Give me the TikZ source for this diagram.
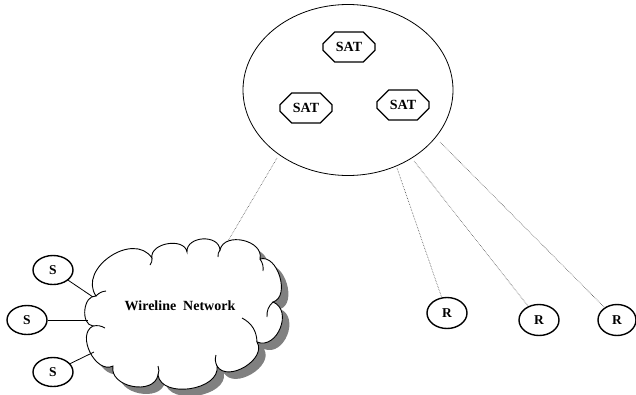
\documentclass[tikz,border=0pt]{standalone}
\usepackage{fontspec}
\setmainfont{Liberation Serif}
\usetikzlibrary{shapes.misc,shapes.geometric}
\tikzset{
  sat/.style={chamfered rectangle, chamfered rectangle xsep=7pt, chamfered rectangle ysep=7pt, draw, line width=1.2pt, minimum width=52pt, minimum height=30pt, inner sep=0pt, font=\bfseries\fontsize{14}{14}\selectfont},
  host/.style={ellipse, draw, line width=1.4pt, minimum width=40pt, minimum height=29pt, inner sep=0pt, font=\bfseries\fontsize{13.5}{13.5}\selectfont},
  link/.style={densely dotted, line width=0.6pt, draw=black!70},
  wire/.style={line width=0.8pt},
  cloudline/.style={line width=0.9pt},
  cloudpath/.style={insert path={
    (96,296) to[bend left=90, looseness=1.25] (152,258)
    to[bend left=90, looseness=1.1] (187,252)
    to[bend left=90, looseness=1.25] (220,250)
    to[bend left=90, looseness=1.2] (260,259)
    to[bend left=90, looseness=1.05] (273,302)
    to[bend left=90, looseness=1.3] (257,342)
    to[bend left=90, looseness=1.1] (217,366)
    to[bend left=90, looseness=1.05] (158,375)
    to[bend left=90, looseness=1.2] (113,366)
    to[bend left=90, looseness=1.1] (93,326)
    to[bend left=90, looseness=1.1] (96,296) -- cycle}}
}
\begin{document}
\begin{tikzpicture}[x=1pt,y=-1pt]
\useasboundingbox (0,0) rectangle (636,394);
% satellite ellipse
\node[ellipse, draw, line width=0.8pt, minimum width=210pt, minimum height=171pt, inner sep=0pt] (sky) at (348,90) {};
\node[sat] (sat1) at (349,47) {SAT};
\node[sat] (sat2) at (306,108) {SAT};
\node[sat] (sat3) at (403,105) {SAT};
% cloud with shadow
\fill[black!50, shift={(7,7)}, cloudpath];
\filldraw[fill=white, draw=black, cloudline, cloudpath];
% inner arcs of the cloud
\draw[cloudline] (96,296) to[bend left=20] (106,291);
\draw[cloudline] (152,258) to[bend left=20] (150,265);
\draw[cloudline] (220,250) to[bend right=20] (218,257);
\draw[cloudline] (260,259) to[bend left=20] (263,271);
\draw[cloudline] (273,302) to[bend right=25] (267,317);
\draw[cloudline] (257,342) to[bend right=30] (242,318);
\draw[cloudline] (217,366) to[bend left=20] (216,355);
\draw[cloudline] (158,375) to[bend right=20] (158,366);
\draw[cloudline] (93,326) to[bend left=20] (105,328);
\node[font=\bfseries\fontsize{14}{14}\selectfont] (netlabel) at (180,306) {Wireline\ \ Network};
% S hosts
\node[host] (s1) at (53,270) {S};
\node[host] (s2) at (27,320) {S};
\node[host] (s3) at (53,372) {S};
\coordinate (n1) at (93,297);
\coordinate (n2) at (88,320);
\coordinate (n3) at (94,352);
\draw[wire] (s1) -- (n1);
\draw[wire] (s2) -- (n2);
\draw[wire] (s3) -- (n3);
% R hosts
\node[host, minimum height=31pt] (r1) at (447,313) {R};
\node[host, minimum height=31pt] (r2) at (539,320) {R};
\node[host, minimum height=31pt, minimum width=38pt] (r3) at (617,320) {R};
% dotted links
\coordinate (k0) at (277,158);
\coordinate (c0) at (228,241);
\coordinate (k1) at (397,168);
\coordinate (k2) at (414,161);
\coordinate (k3) at (440,142);
\draw[link] (k0) -- (c0);
\draw[link] (k1) -- (r1);
\draw[link] (k2) -- (r2);
\draw[link] (k3) -- (r3);
\end{tikzpicture}
\end{document}
